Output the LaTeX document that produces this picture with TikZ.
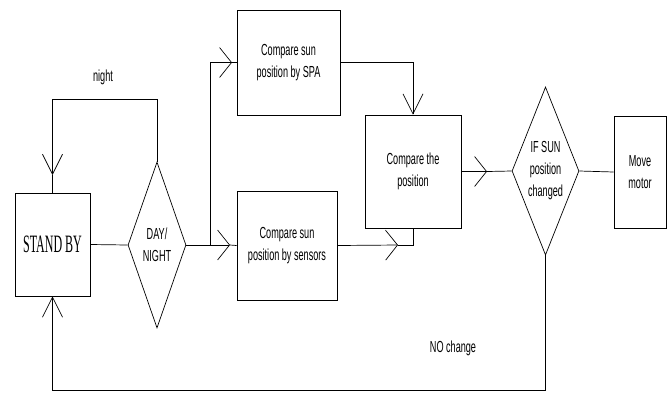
\documentclass[tikz,border=0pt]{standalone}
\usepackage{fontspec}
\setmainfont[FakeStretch=0.57]{Liberation Sans}
\newfontfamily\standfont[FakeStretch=0.48]{Liberation Serif}
\usetikzlibrary{arrows.meta,shapes.geometric}
\tikzset{
  box/.style={draw,rectangle,inner sep=0pt,align=center,font=\fontsize{16}{22}\selectfont},
  dec/.style={draw,diamond,shape aspect=0.4,inner sep=0pt,align=center,font=\fontsize{16}{22}\selectfont},
  harr/.style={-{Straight Barb[length=12pt,width=30pt]}},
  varr/.style={-{Straight Barb[length=20pt,width=20pt]}}
}
\begin{document}
\begin{tikzpicture}[x=1pt,y=-1pt,line width=0.7pt]
            \useasboundingbox (0,0) rectangle (669,392);

            \node[box,minimum width=75pt,minimum height=103pt] (stand) at (52.5,244.5) {\standfont\fontsize{25}{25}\selectfont STAND BY};
            \node[dec,minimum width=58pt,minimum height=166pt] (daynight) at (157,245) {DAY/\\NIGHT};
            \node[box,minimum width=103pt,minimum height=105pt] (spa) at (288.5,62.5) {Compare sun\\position by SPA};
            \node[box,minimum width=100pt,minimum height=109pt] (sensors) at (287,245.5) {Compare sun\\position by sensors};
            \node[box,minimum width=96pt,minimum height=113pt] (compare) at (413,171.5) {Compare the\\position};
            \node[dec,minimum width=67pt,minimum height=168pt] (ifsun) at (545.5,171) {IF SUN\\position\\changed};
            \node[box,minimum width=52pt,minimum height=112pt] (motor) at (640,172) {Move\\motor};

            \draw (103,77) node[font=\fontsize{16}{16}\selectfont]{night};
            \draw (453,348) node[font=\fontsize{16}{16}\selectfont]{NO change};

            \coordinate (nighttop) at (52.5,99);
            \coordinate (nightarr) at (52.5,175);
            \coordinate (split) at (210,245);
            \coordinate (spain) at (232,62.5);
            \coordinate (sensin) at (230,245);
            \coordinate (sensarr) at (398,245);
            \coordinate (cmparr) at (487,171.5);
            \coordinate (back) at (52.5,390);

            \draw (stand.east) -- (daynight.west);
            \draw (daynight.north) |- (nighttop);
            \draw[varr] (nighttop) -- (nightarr);
            \draw (nightarr) -- (stand.north);

            \draw[harr] (daynight.east) -- (sensin);
            \draw (sensin) -- (sensors.west);
            \draw[harr] (split) |- (spain);
            \draw (spain) -- (spa.west);

            \draw[varr] (spa.east) -| (compare.north);
            \draw[harr] (sensors.east) -- (sensarr);
            \draw (sensarr) -| (compare.south);

            \draw[harr] (compare.east) -- (cmparr);
            \draw (cmparr) -- (ifsun.west);
            \draw (ifsun.east) -- (motor.west);

            \draw[varr] (ifsun.south) |- (back) -- (stand.south);
        \end{tikzpicture}
\end{document}
